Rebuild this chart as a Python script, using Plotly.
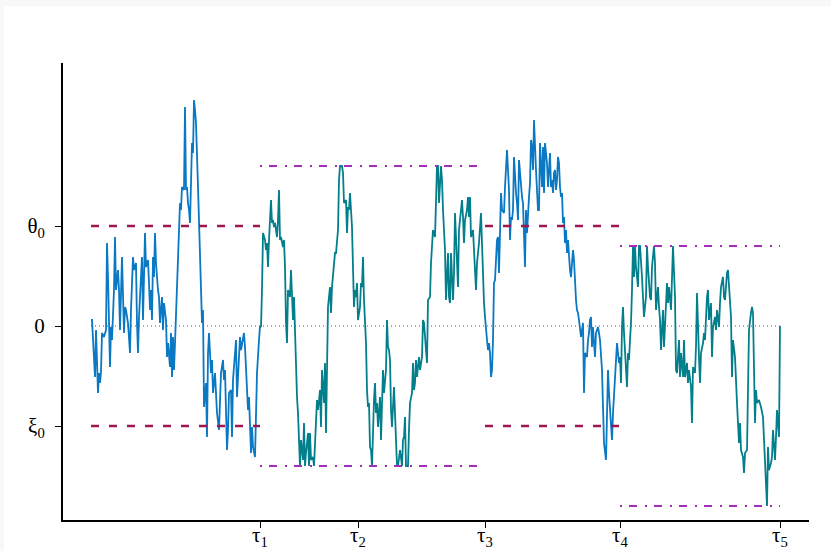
import plotly.graph_objects as go

# ---------------- data (time steps, level in hundredths of theta0) ----------------
t_a = [0, 1, 4, 5, 7, 8, 9, 10, 11, 13, 15, 16, 17, 19, 20, 21, 23, 24, 25, 27,
       28, 29, 31, 32, 33, 34, 35, 37, 39, 40, 41, 42, 43, 45, 46, 47, 48, 50, 51, 52,
       54, 55, 57, 58, 59, 60, 61, 62, 63, 64, 65, 67, 68, 69, 71, 72, 73, 75, 76, 77,
       79, 80, 81, 82, 83, 84, 86, 87, 89, 90, 91, 93, 94, 95, 96, 97, 98, 99, 100, 101,
       102, 103, 104, 105, 107, 109, 110, 111, 112, 113]
v_a = [6, 6, -51, -4, -67, -47, -57, -46, -7, -11, -4, 83, 49, -41, -1, -14, 36, 89, 36, 56,
       36, -4, 69, 23, -7, 19, 16, 3, -27, 16, 53, 69, 56, 63, 3, -27, 9, 43, 69, 6,
       93, 59, 66, 43, 16, 36, 6, 69, 49, 93, 63, 36, 29, 3, 29, -4, 23, 6, -31, -17,
       -41, -7, -51, -11, -44, -17, 36, 79, 123, 116, 139, 136, 219, 136, 139, 123, 116, 103, 139, 183,
       173, 226, 216, 203, 139, 69, 19, 3, 16, -81]

t_b = [115, 116, 117, 118, 120, 121, 122, 124, 125, 126, 128, 129, 130, 132, 133, 134, 136, 137, 138, 140,
       141, 142, 144, 145, 146, 148, 149, 150, 152, 153, 154, 156, 157, 158, 160, 161, 162, 164, 165, 166,
       168, 169]
v_b = [-57, -111, -27, -7, -47, -34, -67, -47, -67, -87, -104, -74, -47, -34, -54, -44, -124, -104, -67, -64,
       -111, -54, -31, -14, -71, -27, -11, -24, -14, -7, -21, -57, -84, -71, -127, -101, -121, -131, -81, -47,
       -14, 0]

t_c = [170, 171, 172, 174, 175, 176, 177, 178, 180, 181, 182, 183, 184, 186, 187, 188, 189, 190, 192, 193,
       194, 195, 196, 197, 199, 200, 201, 202, 203, 204, 206, 207, 208, 209, 210, 212, 213, 214, 215, 217,
       218, 219, 220, 222, 223, 224, 226]
v_c = [-1, 36, 93, 86, 76, 83, 59, 86, 126, 103, 106, 99, 103, 89, 106, 136, 86, 89, 79, 86,
       59, 3, -17, 36, 29, 56, 26, 6, 29, -14, -71, -87, -114, -140, -114, -134, -97, -140, -127, -107,
       -140, -107, -134, -131, -140, -114, -74]

t_d = [227, 229, 230, 231, 233, 234, 235, 236, 237, 239, 240, 241, 243, 244, 245, 247, 248, 249, 251, 252,
       253, 255, 256, 257, 258, 259, 261, 262, 263, 264, 265, 266, 267, 269, 270, 271, 272, 273, 275, 276,
       277, 278, 279, 280, 281, 283, 284, 285, 286, 287, 289, 290, 291, 292, 293, 295, 296, 297, 298, 299,
       300, 301, 303, 304, 306, 307, 309, 311, 312, 313, 314, 315, 317, 318, 319, 321, 322, 323, 324, 325,
       326, 327, 328, 329, 331, 332, 333, 335, 336, 337, 339, 340, 341, 342, 344]
v_d = [-84, -64, -101, -44, -77, -37, -107, -57, 19, 39, 13, 39, 66, 73, 73, 96, 146, 160, 160, 153,
       123, 126, 93, 119, 116, 133, 99, 66, 19, 36, 29, 43, 6, 19, 43, 39, 69, 26, -17, -64,
       -81, -77, -121, -124, -140, -74, -57, -87, -77, -101, -71, -114, -71, -44, -67, -44, 6, -21, -24, -34,
       -84, -101, -61, -91, -140, -140, -124, -140, -114, -111, -91, -140, -140, -104, -77, -67, -37, -64, -57, -34,
       -51, -41, -31, -44, -31, 6, 3, -24, -37, 26, 29, 63, 83, 96, 89]

t_e = [345, 346, 347, 348, 350, 351, 352, 354, 355, 356, 357, 358, 359, 360, 361, 362, 363, 364, 365, 366,
       367, 368, 369, 371, 372, 373, 374, 376, 377, 378, 379, 380, 382, 383, 384, 385, 386, 387, 388, 390,
       391, 392, 393, 394]
v_e = [116, 160, 160, 123, 160, 146, 116, 76, 26, 49, 73, 29, 23, 73, 49, 26, 53, 113, 89, 69,
       39, 96, 109, 126, 109, 83, 106, 116, 129, 109, 129, 89, 96, 76, 53, 36, 63, 73, 83, 113,
       76, 49, 23, 9]

t_f = [395, 396, 397, 398, 399, 400, 401, 402, 403, 404, 406, 407, 408, 409, 410, 411, 413, 414, 415, 416,
       417, 418, 419, 420, 421, 422, 423, 424, 425, 426, 427, 428, 430, 431, 432, 433, 434, 435, 436, 438,
       439, 440, 441, 442, 443, 445, 446, 447, 448, 449, 451, 452, 453, 454, 456, 457, 459]
v_f = [-7, -14, -24, -17, -27, -51, -44, -14, 43, 46, 86, 89, 53, 83, 133, 116, 113, 139, 159, 176,
       156, 136, 86, 109, 106, 116, 169, 143, 133, 123, 106, 166, 139, 129, 123, 89, 59, 116, 93, 129,
       143, 186, 179, 156, 206, 156, 139, 116, 116, 183, 139, 179, 133, 183, 163, 139, 173]

t_g = [460, 461, 462, 463, 464, 465, 466, 467, 468, 469, 470, 471, 472, 473, 474, 475, 476, 477, 478, 479,
       480, 481, 482, 483, 484, 485, 486, 487, 488, 489]
v_g = [139, 146, 133, 153, 156, 136, 146, 169, 163, 139, 129, 133, 103, 109, 83, 96, 73, 86, 69, 56,
       49, 63, 76, 66, 43, 26, 16, 13, 6, -1]

t_h = [490, 492, 493, 494, 496, 497, 498, 499, 500, 501, 502, 503, 504, 505, 507, 508, 509, 511, 512, 513,
       515, 516, 517, 518, 519, 521, 522, 523, 524, 525, 526, 528, 529]
v_h = [-11, 3, -67, -27, -31, -14, -7, 6, 9, -21, -1, -17, -31, -7, -1, -7, -14, -44, -101, -117,
       -134, -74, -44, -67, -87, -114, -87, -71, -57, -34, -17, -37, -31]

t_i = [530, 531, 532, 533, 535, 536, 537, 538, 539, 540, 541, 542, 543, 544, 545, 547, 548, 549, 551, 552,
       553, 555, 556, 557, 559, 560, 561, 563, 564, 565, 567, 568, 569]
v_i = [-57, -1, 19, -7, -37, -61, -27, -34, -14, 3, 36, 80, 49, 80, 59, 39, 80, 80, 49, 23,
       9, 29, 80, 59, 29, 26, 59, 80, 63, 16, 39, 19, 6]

t_j = [570, 572, 573, 574, 576, 577, 578, 580, 581, 582, 584, 585, 586, 588, 589, 590, 592, 593, 594, 596,
       597, 598, 600, 601, 602, 604, 605, 606, 608, 609, 610, 612, 613, 614, 616, 617, 618, 620, 621, 622,
       624, 625, 626, 628, 629, 630, 632, 633, 634, 636, 637, 638, 640, 641, 642, 644, 645, 646, 648, 649,
       650, 652, 653, 654, 656, 657, 658, 660, 661, 662, 664, 665, 666, 668, 669, 670, 672, 673, 674, 676,
       677, 678, 680, 681, 682, 684, 685, 686, 688, 689]
v_j = [-24, 16, -21, -1, 43, 23, 39, 16, 46, 80, 29, -44, -47, -14, -51, -27, -51, -14, -51, -37,
       -57, -44, -61, -97, -41, -47, -21, 33, -31, -57, -27, -17, -7, -14, 29, 36, 6, 23, -31, -1,
       9, -4, 16, -1, 23, 39, 49, 29, 26, 53, 56, 39, 9, -51, -14, -31, -67, -77, -117, -97,
       -124, -131, -147, -127, -124, -44, -4, 13, 19, 13, -97, -64, -77, -74, -77, -81, -91, -117, -124, -180,
       -121, -144, -137, -131, -104, -134, -111, -84, -111, 0]

# stopping times
tau = [169, 267, 394, 529, 689]
tau_labels = ["τ<sub>1</sub>", "τ<sub>2</sub>", "τ<sub>3</sub>", "τ<sub>4</sub>", "τ<sub>5</sub>"]

# thresholds (units of theta0)
theta0, xi0 = 1.0, -1.0
band1 = [1.6, -1.4]   # between tau1 and tau3
band2 = [0.8, -1.8]   # between tau4 and tau5
y_ticks = [1, 0, -1]
y_labels = ["θ<sub>0</sub>", "0", "ξ<sub>0</sub>"]

# ---------------- build ----------------
T = t_a + t_b + t_c + t_d + t_e + t_f + t_g + t_h + t_i + t_j
V = [v / 100.0 for v in (v_a + v_b + v_c + v_d + v_e + v_f + v_g + v_h + v_i + v_j)]

BLUE = "#0a78c2"
TEAL = "#037f8c"
RED = "#9c1750"
PURPLE = "#a22cbd"

fig = go.Figure()

def seg(t0, t1):
    xs = [t for t in T if t0 <= t <= t1]
    ys = [v for t, v in zip(T, V) if t0 <= t <= t1]
    return xs, ys

segments = [(0, tau[0], BLUE), (tau[0], tau[2], TEAL), (tau[2], tau[3], BLUE), (tau[3], tau[4], TEAL)]

# zero dotted line
fig.add_trace(go.Scatter(x=[0, tau[4]], y=[0, 0], mode="lines",
                         line=dict(color="#5a5a5a", width=1, dash="1px,3px"),
                         hoverinfo="skip", showlegend=False))

for a, b, c in segments:
    xs, ys = seg(a, b)
    fig.add_trace(go.Scatter(x=xs, y=ys, mode="lines", line=dict(color=c, width=1.8),
                             showlegend=False))

# red dashed thresholds
for (a, b) in [(0, tau[0]), (tau[2], tau[3])]:
    for lvl in (theta0, xi0):
        fig.add_trace(go.Scatter(x=[a, b], y=[lvl, lvl], mode="lines",
                                 line=dict(color=RED, width=2.6, dash="8px,10px"),
                                 hoverinfo="skip", showlegend=False))

# purple dash-dot bands
for (a, b), band in [((tau[0], tau[2]), band1), ((tau[3], tau[4]), band2)]:
    for lvl in band:
        fig.add_trace(go.Scatter(x=[a, b], y=[lvl, lvl], mode="lines",
                                 line=dict(color=PURPLE, width=2.2, dash="2px,7px,8px,8px"),
                                 hoverinfo="skip", showlegend=False))

W, H = 831, 551
L, R, TOP, B = 63, 22, 63, 31
pw, ph = W - L - R, H - TOP - B

# faint frame strips at the top and left edges
fig.add_shape(type="rect", xref="paper", yref="paper", layer="below",
              x0=-L / pw, x1=(W - L) / pw, y0=(ph + TOP - 6) / ph, y1=(ph + TOP) / ph,
              fillcolor="#f8f8f8", line_width=0)
fig.add_shape(type="rect", xref="paper", yref="paper", layer="below",
              x0=-L / pw, x1=(4 - L) / pw, y0=-B / ph, y1=(ph + TOP) / ph,
              fillcolor="#f8f8f8", line_width=0)

font = dict(family="Liberation Serif, Times New Roman, serif", size=21, color="black")

fig.update_layout(
    width=W, height=H,
    margin=dict(l=L, r=R, t=TOP, b=B, autoexpand=False),
    paper_bgcolor="white", plot_bgcolor="white",
    showlegend=False,
    font=font,
    xaxis=dict(range=[-28, 718], showgrid=False, zeroline=False, automargin=False,
               showline=True, linecolor="black", linewidth=2,
               ticks="outside", ticklen=6, tickwidth=1, tickcolor="black",
               tickmode="array", tickvals=tau, ticktext=tau_labels,
               ticklabelstandoff=-11, tickfont=font),
    yaxis=dict(range=[-1.94, 2.63], showgrid=False, zeroline=False, automargin=False,
               showline=True, linecolor="black", linewidth=2,
               ticks="outside", ticklen=6, tickwidth=1, tickcolor="black",
               tickmode="array", tickvals=y_ticks, ticktext=y_labels,
               ticklabelstandoff=6, tickfont=font),
)

fig.write_html("out.html", config={"displayModeBar": False},
               post_script="document.body.style.margin='0px';document.body.style.padding='0px';")
